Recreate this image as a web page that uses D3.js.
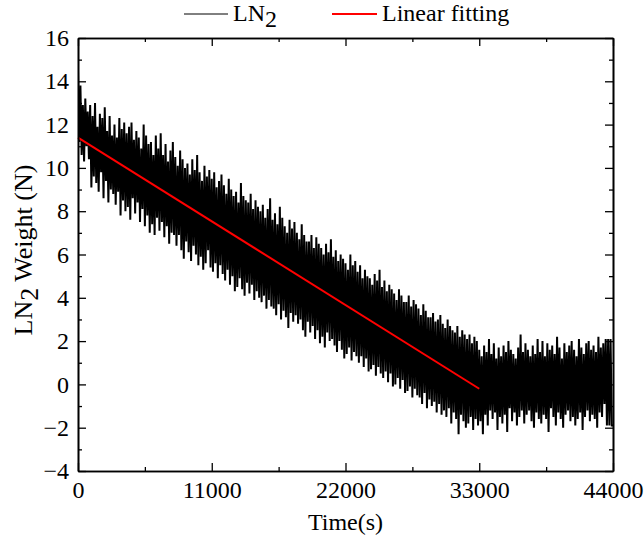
<!DOCTYPE html>
<html>
<head>
<meta charset="utf-8">
<script src="https://cdn.jsdelivr.net/npm/d3@7"></script>
<style>
    body { margin: 0; background: #fff; }
    svg text { font-family: "Liberation Serif", "Times New Roman", serif; fill: #000; }
</style>
</head>
<body>
<div id="chart"></div>
<script>
// LN2 weight samples, one every 100 s from 0 to 44000 s
const sampleStep = 100;
const weightValues = [
    14.5, 11.2, 13.8, 10.6, 12.9, 10.3, 13.2, 11.0, 12.6, 10.4,
    12.9, 9.1, 12.4, 9.6, 13.0, 9.3, 11.9, 8.9, 12.5, 9.8,
    12.3, 8.6, 12.8, 9.4, 11.7, 8.4, 12.4, 9.0, 11.5, 8.8,
    12.0, 8.3, 11.4, 8.9, 12.3, 7.8, 11.8, 8.5, 12.1, 8.0,
    11.6, 8.2, 11.9, 7.6, 12.1, 8.6, 11.3, 7.9, 11.7, 8.4,
    11.4, 7.5, 10.9, 8.1, 12.0, 7.3, 11.5, 7.8, 11.1, 7.0,
    11.2, 7.4, 10.6, 6.9, 11.5, 7.7, 10.9, 7.1, 11.6, 7.5,
    10.6, 6.8, 11.1, 7.3, 10.3, 6.5, 10.8, 7.0, 11.2, 6.9,
    10.5, 6.4, 10.1, 6.9, 10.8, 6.2, 10.4, 5.8, 10.0, 6.6,
    10.2, 6.1, 9.7, 5.7, 10.4, 6.4, 9.9, 6.0, 10.6, 5.5,
    9.8, 5.9, 9.4, 5.3, 10.1, 5.6, 9.6, 6.2, 9.9, 5.4,
    9.5, 5.2, 9.8, 5.6, 9.1, 4.9, 9.4, 5.5, 9.7, 5.1,
    9.2, 4.8, 8.8, 5.3, 9.5, 4.6, 9.0, 5.0, 8.7, 4.3,
    8.9, 4.5, 8.4, 4.9, 9.3, 4.4, 8.7, 4.1, 8.5, 4.7,
    8.4, 4.2, 8.8, 4.6, 8.1, 3.9, 8.5, 4.3, 8.2, 4.0,
    8.0, 3.8, 8.3, 4.1, 7.7, 3.5, 8.1, 3.9, 8.6, 3.6,
    7.6, 3.5, 7.9, 3.2, 7.4, 3.7, 8.2, 3.0, 7.7, 3.4,
    7.3, 3.1, 7.0, 2.6, 7.6, 3.3, 7.2, 2.9, 7.5, 3.2,
    7.0, 2.8, 6.7, 3.0, 7.4, 2.5, 6.9, 2.2, 6.6, 2.9,
    6.6, 2.4, 6.9, 2.7, 6.3, 2.1, 6.8, 2.5, 6.5, 1.9,
    6.3, 2.2, 6.0, 1.7, 6.5, 2.4, 6.1, 2.0, 6.7, 2.1,
    5.9, 1.8, 6.2, 1.5, 5.7, 2.0, 6.0, 1.6, 5.8, 1.2,
    5.6, 1.4, 5.3, 1.7, 6.0, 1.1, 5.5, 1.5, 5.7, 1.3,
    5.2, 1.0, 5.5, 1.3, 4.9, 0.8, 5.3, 1.2, 5.0, 0.6,
    4.9, 0.7, 4.6, 0.9, 5.1, 0.4, 4.8, 0.8, 5.3, 0.5,
    4.5, 0.3, 4.8, 0.6, 4.3, 0.1, 4.6, 0.5, 4.4, -0.1,
    4.2, 0.0, 3.9, 0.3, 4.4, -0.2, 4.1, 0.2, 3.8, -0.4,
    3.8, -0.3, 4.1, -0.1, 3.6, -0.6, 3.9, -0.2, 3.7, -0.5,
    3.5, -0.6, 3.2, -0.9, 3.7, -0.4, 3.4, -1.1, 3.1, -0.7,
    3.1, -1.0, 3.3, -0.8, 2.9, -1.3, 3.0, -0.9, 3.2, -1.4,
    2.8, -1.2, 2.6, -1.5, 3.0, -1.1, 2.7, -1.8, 2.5, -1.3,
    2.4, -1.6, 2.7, -2.3, 2.2, -1.4, 2.5, -1.7, 2.3, -2.0,
    2.1, -1.8, 2.3, -1.5, 1.9, -2.1, 2.2, -1.6, 2.0, -1.9,
    1.6, -1.7, 1.3, -2.3, 1.8, -1.4, 1.5, -1.9, 2.1, -1.2,
    1.4, -1.6, 1.9, -1.3, 1.2, -2.1, 1.7, -1.5, 1.3, -1.8,
    1.8, -1.4, 1.5, -2.2, 2.0, -1.1, 1.6, -1.7, 1.4, -1.3,
    1.2, -1.9, 1.7, -1.5, 2.3, -1.2, 1.5, -1.8, 1.9, -1.4,
    1.6, -1.2, 1.3, -1.7, 1.8, -2.0, 1.4, -1.3, 2.1, -1.6,
    1.5, -1.8, 2.0, -1.4, 1.3, -1.6, 1.9, -2.2, 1.6, -1.1,
    1.8, -1.5, 1.4, -1.9, 2.2, -1.3, 1.7, -1.6, 1.2, -2.0,
    1.9, -1.4, 1.5, -1.2, 1.8, -1.7, 2.0, -1.5, 1.6, -1.9,
    1.3, -1.6, 2.1, -1.3, 1.7, -2.1, 1.4, -1.5, 1.9, -1.2,
    2.0, -1.7, 1.6, -1.4, 1.8, -1.6, 1.5, -2.0, 2.2, -1.3,
    1.7, -1.5, 1.9, -0.9, 2.1, -1.9, 2.1, -1.9, 2.1, -1.9,
    -1.9
];

// linear fit end points
const fitTimes = [0, 33000];
const fitValues = [11.4, -0.2];

const xTicks = [0, 11000, 22000, 33000, 44000];
const xMinorTicks = [5500, 16500, 27500, 38500];
const yTicks = [-4, -2, 0, 2, 4, 6, 8, 10, 12, 14, 16];
const yMinorTicks = [-3, -1, 1, 3, 5, 7, 9, 11, 13, 15];

const margin = { top: 38, right: 31, bottom: 70, left: 78 };
const width = 644 - margin.left - margin.right;
const height = 541 - margin.top - margin.bottom;
const fontSize = '24px';

const svg = d3.select('#chart')
    .append('svg')
    .attr('width', 644)
    .attr('height', 541);

const g = svg.append('g')
    .attr('transform', `translate(${margin.left}, ${margin.top})`);

const xScale = d3.scaleLinear().domain([0, 44000]).range([0, width]);
const yScale = d3.scaleLinear().domain([-4, 16]).range([height, 0]);

g.append('defs').append('clipPath')
    .attr('id', 'plot-clip')
    .append('rect')
    .attr('width', width)
    .attr('height', height);

// data
const lineData = weightValues.map((v, i) => ({ t: i * sampleStep, v: v }));
const line = d3.line()
    .x(d => xScale(d.t))
    .y(d => yScale(d.v));

g.append('path')
    .datum(lineData)
    .attr('clip-path', 'url(#plot-clip)')
    .attr('fill', 'none')
    .attr('stroke', '#000')
    .attr('stroke-width', 2)
    .attr('d', line);

const fitData = fitTimes.map((t, i) => ({ t: t, v: fitValues[i] }));
g.append('path')
    .datum(fitData)
    .attr('fill', 'none')
    .attr('stroke', '#ff0000')
    .attr('stroke-width', 2)
    .attr('d', line);

// axes, ticks pointing inward on all four sides
function styleAxis(sel) {
    sel.selectAll('path.domain').attr('stroke-width', 1.6);
    sel.selectAll('.tick line').attr('stroke-width', 1.3);
    sel.selectAll('.tick text')
        .style('font-family', '"Liberation Serif", "Times New Roman", serif')
        .style('font-size', fontSize);
}

const major = 8;
const minor = 4;
const fmt = d3.format('d');

g.append('g')
    .attr('transform', `translate(0, ${height})`)
    .call(d3.axisBottom(xScale).tickValues(xTicks).tickFormat(fmt).tickSizeInner(-major).tickSizeOuter(0).tickPadding(10))
    .call(styleAxis);
g.append('g')
    .attr('transform', `translate(0, ${height})`)
    .call(d3.axisBottom(xScale).tickValues(xMinorTicks).tickFormat('').tickSizeInner(-minor).tickSizeOuter(0))
    .call(styleAxis);

g.append('g')
    .call(d3.axisTop(xScale).tickValues(xTicks).tickFormat('').tickSizeInner(-major).tickSizeOuter(0))
    .call(styleAxis);
g.append('g')
    .call(d3.axisTop(xScale).tickValues(xMinorTicks).tickFormat('').tickSizeInner(-minor).tickSizeOuter(0))
    .call(styleAxis);

g.append('g')
    .call(d3.axisLeft(yScale).tickValues(yTicks).tickFormat(fmt).tickSizeInner(-major).tickSizeOuter(0).tickPadding(9))
    .call(styleAxis);
g.append('g')
    .call(d3.axisLeft(yScale).tickValues(yMinorTicks).tickFormat('').tickSizeInner(-minor).tickSizeOuter(0))
    .call(styleAxis);

g.append('g')
    .attr('transform', `translate(${width}, 0)`)
    .call(d3.axisRight(yScale).tickValues(yTicks).tickFormat('').tickSizeInner(-major).tickSizeOuter(0))
    .call(styleAxis);
g.append('g')
    .attr('transform', `translate(${width}, 0)`)
    .call(d3.axisRight(yScale).tickValues(yMinorTicks).tickFormat('').tickSizeInner(-minor).tickSizeOuter(0))
    .call(styleAxis);

// axis titles
svg.append('text')
    .attr('x', margin.left + width / 2)
    .attr('y', 530)
    .attr('text-anchor', 'middle')
    .style('font-size', fontSize)
    .text('Time(s)');

const yTitle = svg.append('text')
    .attr('transform', 'translate(32, 250) rotate(-90)')
    .attr('text-anchor', 'middle')
    .style('font-size', '26px');
yTitle.append('tspan').text('LN');
yTitle.append('tspan').attr('dy', 6).text('2');
yTitle.append('tspan').attr('dy', -6).text(' Weight (N)');

// legend
const legend = svg.append('g');
legend.append('line')
    .attr('x1', 184).attr('x2', 228)
    .attr('y1', 14).attr('y2', 14)
    .attr('stroke', '#000').attr('stroke-width', 1);
const lnText = legend.append('text')
    .attr('x', 233).attr('y', 21)
    .style('font-size', fontSize);
lnText.append('tspan').text('LN');
lnText.append('tspan').attr('dy', 6).text('2');

legend.append('line')
    .attr('x1', 332).attr('x2', 377)
    .attr('y1', 14).attr('y2', 14)
    .attr('stroke', '#ff0000').attr('stroke-width', 2);
legend.append('text')
    .attr('x', 382).attr('y', 21)
    .style('font-size', fontSize)
    .text('Linear fitting');
</script>
</body>
</html>
